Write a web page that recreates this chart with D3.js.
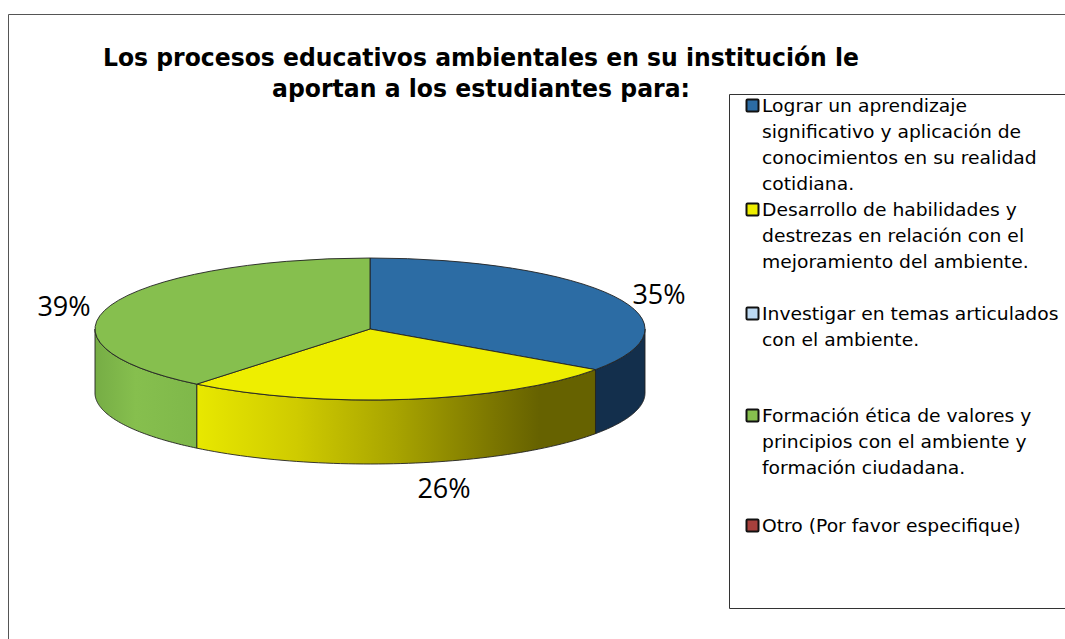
<!DOCTYPE html>
<html><head><meta charset="utf-8">
<script src="https://cdn.jsdelivr.net/npm/d3@7"></script>
<style>html,body{margin:0;padding:0;background:#fff;overflow:hidden}svg{display:block}</style>
</head><body><svg id="c" width="1065" height="639"></svg>
<script>
const titleLines = ["Los procesos educativos ambientales en su institución le","aportan a los estudiantes para:"];
const categories = [
 ["Lograr un aprendizaje","significativo y aplicación de","conocimientos en su realidad","cotidiana."],
 ["Desarrollo de habilidades y","destrezas en relación con el","mejoramiento del ambiente."],
 ["Investigar en temas articulados","con el ambiente."],
 ["Formación ética de valores y","principios con el ambiente y","formación ciudadana."],
 ["Otro (Por favor especifique)"]
];
const values = [34.7,26.15,0,39.15,0];
const colors = ["#2c6ca4","#eeee00","#bcd9f2","#86bf4e","#a8403c"];
const wallColors = ["#132f4c","url(#yw)","#8aa","url(#gw)","#722"];

const svg = d3.select("#c");
const W=1065,H=639;
svg.append("path").attr("d",`M8.5 ${H}V14.5H${W}`).attr("fill","none").attr("stroke","#555").attr("stroke-width",1);

svg.append("g").selectAll("text").data(titleLines).join("text")
 .attr("x",481).attr("y",(d,i)=>66+i*31).attr("text-anchor","middle")
 .attr("font-family","DejaVu Sans").attr("font-weight","bold").attr("font-size",25)
 .attr("textLength",(d,i)=>i==0?756:418).attr("lengthAdjust","spacingAndGlyphs")
 .attr("fill","#000").text(d=>d);

const cx=370,cy=329,rx=275,ry=71,depth=64;
const defs=svg.append("defs");
const yw=defs.append("linearGradient").attr("id","yw").attr("gradientUnits","userSpaceOnUse")
 .attr("x1",197).attr("x2",595).attr("y1",0).attr("y2",0);
[[0,"#e8e800"],[.25,"#cfcb00"],[.5,"#a8a400"],[.75,"#7a7500"],[.86,"#666200"],[1,"#666200"]]
 .forEach(s=>yw.append("stop").attr("offset",s[0]).attr("stop-color",s[1]));
const gw=defs.append("linearGradient").attr("id","gw").attr("gradientUnits","userSpaceOnUse")
 .attr("x1",95).attr("x2",197).attr("y1",0).attr("y2",0);
[[0,"#76ad45"],[.4,"#86bf4e"],[1,"#7fb84a"]].forEach(s=>gw.append("stop").attr("offset",s[0]).attr("stop-color",s[1]));

const pie=d3.pie().sort(null).value(d=>d)(values);
const ex=a=>cx+rx*Math.sin(a), ey=a=>cy-ry*Math.cos(a);
const walls=svg.append("g");
pie.forEach((p,i)=>{
  if(p.value===0) return;
  const a0=Math.max(p.startAngle,Math.PI/2), a1=Math.min(p.endAngle,3*Math.PI/2);
  if(a1<=a0) return;
  const pts=d3.range(0,61).map(k=>a0+(a1-a0)*k/60);
  const top=pts.map(a=>[ex(a),ey(a)]);
  const bot=pts.slice().reverse().map(a=>[ex(a),ey(a)+depth]);
  walls.append("path").attr("d",d3.line()(top.concat(bot))+"Z")
    .attr("fill",wallColors[i]).attr("stroke","#222").attr("stroke-width",1).attr("stroke-opacity",.9);
});
const arc=d3.arc().innerRadius(0).outerRadius(rx);
svg.append("g").attr("transform",`translate(${cx},${cy}) scale(1,${ry/rx})`)
 .selectAll("path").data(pie.filter(p=>p.value>0)).join("path")
 .attr("d",arc).attr("fill",d=>colors[d.index])
 .attr("stroke","#222").attr("stroke-width",1).attr("stroke-opacity",.9).attr("vector-effect","non-scaling-stroke");

const labelPos={0:[659,294],1:[444,488],3:[64,306]};
svg.append("g").selectAll("text").data(pie.filter(p=>p.value>0)).join("text")
 .attr("transform",d=>`translate(${labelPos[d.index][0]},${labelPos[d.index][1]+10})`)
 .attr("text-anchor","middle").attr("font-family","Open Sans").attr("font-size",27)
 .attr("fill","#000").text(d=>Math.round(d.value)+"%");

svg.append("path").attr("d",`M${W} 94.5H729.5V608.5H${W}`).attr("fill","#fff").attr("stroke","#333");
const firstY=[106,210,314,416,526];
const lg=svg.append("g");
categories.forEach((lines,i)=>{
  lg.append("rect").attr("x",746.5).attr("y",firstY[i]-6.5).attr("width",12).attr("height",12)
    .attr("fill",colors[i]).attr("stroke","#111").attr("stroke-width",2).attr("rx",1);
  lines.forEach((t,j)=>{
    lg.append("text").attr("transform",`translate(762,${firstY[i]+j*26+6}) scale(1.04,1)`)
      .attr("font-family","DejaVu Sans").attr("font-size",18).attr("fill","#000").text(t);
  });
});
</script></body></html>
